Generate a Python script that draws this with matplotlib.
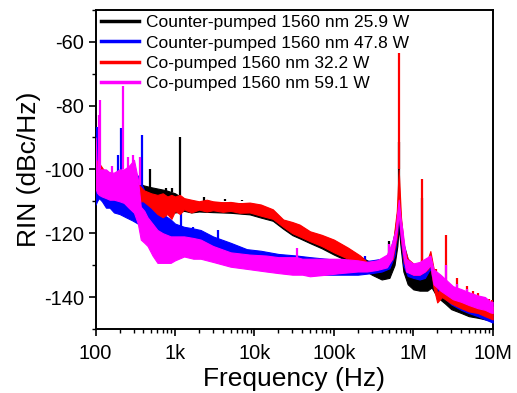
import numpy as np
import matplotlib
matplotlib.use('Agg')
import matplotlib.pyplot as plt
from matplotlib.ticker import FixedLocator, LogLocator, NullFormatter

plt.rcParams['font.family'] = ['Liberation Sans', 'DejaVu Sans']
plt.rcParams['axes.unicode_minus'] = False

labels = ['Counter-pumped 1560 nm 25.9 W',
          'Counter-pumped 1560 nm 47.8 W',
          'Co-pumped 1560 nm 32.2 W',
          'Co-pumped 1560 nm 59.1 W']
colors = ['black', '#0000ff', '#ff0000', '#ff00ff']

# ---- Counter-pumped 25.9 W (noise band + narrow peaks)
f_black = [100, 130, 180, 250, 330, 400, 480, 600, 760, 1000, 1300, 1600, 2000, 3000, 5000,
           8700, 12e3, 17e3, 23e3, 30e3, 37e3, 50e3, 70e3, 100e3, 150e3, 214e3, 300e3,
           400e3, 500e3, 580e3, 630e3, 655e3, 690e3, 750e3, 850e3, 1e6, 1.2e6, 1.5e6,
           1.7e6, 2e6, 2.5e6, 3e6, 4e6, 5e6, 6.5e6, 8e6, 10e6]
lo_black = [-107, -108, -108, -109, -110, -111, -112, -113, -113.5, -113.5, -113, -113.5,
            -113.2, -113.4, -113.6, -114.1, -115.1, -116.1, -118.6, -120.6, -121.6, -123.1,
            -124.7, -126.7, -128.7, -130.6, -133, -134.5, -134, -130, -124, -118, -124,
            -132, -136, -137.6, -138, -138, -137, -140, -142, -143.8, -145, -146, -146.5,
            -147, -147.5]
hi_black = [-101, -102, -102, -103, -104, -105, -105.5, -106, -106.5, -107.5, -109.3, -109.8,
            -110.3, -110.3, -110.5, -110.7, -111.3, -112.8, -116, -116.8, -117.6, -119.7,
            -120.8, -122.3, -124.8, -127.3, -129.3, -130, -129, -124, -116, -106, -116, -124,
            -129, -132, -133, -131, -130, -134, -136, -138, -140, -141, -142, -143, -144]
spk_f_black = [480, 760, 910, 1150, 2300, 4200, 7000, 490e3, 655e3, 1.3e6]
spk_lo_black = [-106, -107, -107, -108, -110, -110, -110, -130, -110, -133]
spk_hi_black = [-100, -105.8, -105.8, -90, -108.8, -109.2, -109.5, -122.5, -91.5, -109]

# ---- Counter-pumped 47.8 W
f_blue = [100, 104, 110, 120, 135, 150, 170, 200, 240, 290, 340, 400, 450, 520, 600, 700,
          880, 1000, 1300, 1700, 2100, 3000, 5000, 8000, 12e3, 20e3, 34e3, 50e3, 80e3,
          120e3, 200e3, 300e3, 400e3, 500e3, 580e3, 630e3, 655e3, 690e3, 750e3, 850e3,
          1e6, 1.2e6, 1.4e6, 1.64e6, 1.8e6, 2.2e6, 3e6, 4e6, 5e6, 6.5e6, 8e6, 10e6]
lo_blue = [-111, -110, -109, -110, -112, -112, -113.5, -114, -115, -116, -117, -119, -120,
           -121, -121, -122, -124, -124, -124, -125, -125, -126, -128, -129, -130, -131,
           -132, -133, -133, -133, -133, -132.5, -132, -131, -127, -120, -115, -121, -130,
           -133.4, -134, -134.5, -134, -131, -136, -139, -142.3, -144, -145, -146, -147, -148]
hi_blue = [-99, -102, -101, -101, -102, -101, -102, -101, -100, -100, -102, -106, -110,
           -111, -112.6, -114, -115.7, -117, -118, -118.5, -119, -121, -123, -125, -125.5,
           -126.5, -127, -127.5, -128, -128.5, -129, -128.5, -128, -126.5, -120, -113, -110,
           -115, -123, -128, -130, -131, -130, -127, -132, -135, -138, -139.5, -140.5, -142,
           -143, -144.5]
spk_f_blue = [104, 189, 208, 385, 1200, 1700, 3500, 250e3]
spk_lo_blue = [-104, -105, -104, -110, -120, -122, -124, -129]
spk_hi_blue = [-86.6, -95.4, -87, -89.2, -113.6, -118, -119, -127]

# ---- Co-pumped 32.2 W
f_red = [100, 110, 125, 150, 180, 220, 270, 330, 400, 500, 600, 700, 800, 900, 1000, 1150,
         1300, 1600, 2000, 2500, 3000, 4000, 5000, 6500, 8700, 12e3, 17e3, 23e3, 30e3, 37e3,
         50e3, 70e3, 100e3, 150e3, 214e3, 260e3, 350e3, 450e3, 550e3, 620e3, 655e3, 700e3,
         760e3, 850e3, 1e6, 1.2e6, 1.5e6, 1.64e6, 1.8e6, 2.0e6, 2.3e6, 3e6, 4e6, 5e6, 6.5e6,
         8e6, 10e6]
lo_red = [-106, -106, -107, -108, -109, -109, -110, -110, -110, -112, -114, -115, -114,
          -115.5, -113, -114, -112.5, -113.5, -112.6, -113.2, -112.8, -113.3, -113, -113.6,
          -113.5, -114.5, -115.5, -118, -120, -121, -122.5, -124, -126, -128, -129.8, -130.5,
          -131, -130.5, -128, -121, -112, -122, -129, -132, -133, -133, -131.5, -130, -137,
          -141.7, -140, -142, -143.5, -144.5, -145, -146, -147]
hi_red = [-97, -98, -100, -101, -102, -102, -103, -104, -106.5, -107.5, -108, -107.5, -108.5,
          -108, -108.5, -108, -109, -109.5, -110, -109.5, -110, -110.3, -110.2, -110.6,
          -110.4, -111, -112.5, -115.7, -116.5, -117.3, -119.4, -120.5, -122, -124.5, -127,
          -129, -129, -128.5, -124, -113, -100, -115, -124, -128, -129.5, -130, -128.5,
          -125.6, -131, -139, -136, -137, -139, -140, -141, -142, -143]
spk_f_red = [655e3, 1.29e6, 1.95e6, 2.6e6, 3.6e6, 4.7e6, 5.6e6, 6.6e6, 7.7e6, 8.9e6, 9.8e6]
spk_lo_red = [-100, -130, -138, -137, -139, -140, -141, -142, -143, -143, -144]
spk_hi_red = [-63.5, -103, -131.3, -120.5, -134, -136.6, -138, -138.6, -140, -140.7, -141]

# ---- Co-pumped 59.1 W
f_mag = [100, 104, 110, 120, 135, 150, 170, 200, 227, 260, 304, 340, 370, 410, 450, 520,
         600, 700, 880, 1000, 1300, 1700, 2100, 3000, 5000, 8700, 14e3, 20e3, 30e3, 34e3,
         40e3, 50e3, 80e3, 120e3, 200e3, 260e3, 350e3, 465e3, 540e3, 600e3, 620e3, 655e3,
         690e3, 730e3, 810e3, 1e6, 1.2e6, 1.4e6, 1.64e6, 1.8e6, 2.2e6, 3.16e6, 4e6, 5e6,
         6.5e6, 8e6, 9.3e6, 10e6]
lo_mag = [-106, -107.3, -108, -108.5, -109, -109.5, -109.5, -110, -110.5, -112, -113.6,
          -117, -122, -123, -124, -127, -129.3, -129.3, -129.3, -128.5, -127.3, -128, -128,
          -129, -130.5, -131.3, -132, -132.5, -133, -133, -133, -133.5, -133, -132.5, -132,
          -132, -131.5, -130.7, -128, -122, -119, -114, -120, -125, -132, -133, -133, -132,
          -130, -136, -138, -140.7, -141.5, -142.5, -143.5, -144, -144.8, -145]
hi_mag = [-90, -101.7, -100, -100, -100, -101, -101, -100, -100, -99, -97, -103, -111.7,
          -113, -115, -117, -119, -120, -121, -121, -121, -121.5, -122, -124, -126, -126.7,
          -127, -127.5, -127.5, -127.5, -128, -128, -128, -128, -128.5, -129, -128.5,
          -126.7, -123, -118.8, -114.7, -109.5, -115, -119, -128, -129.5, -129, -128, -127,
          -131.3, -133, -136.6, -137.5, -138.5, -139.5, -140, -141.4, -141.5]
spk_f_mag = [109, 113, 159, 223, 258, 298, 362, 34e3, 490e3, 2.6e6, 3.6e6, 4.7e6]
spk_lo_mag = [-101, -100, -101, -100, -100, -100, -105, -128, -127, -135, -138, -139]
spk_hi_mag = [-83, -78.2, -99, -74, -96, -95.4, -96, -124.5, -123.5, -130, -136, -137.5]

series = [
    (f_black, lo_black, hi_black, spk_f_black, spk_lo_black, spk_hi_black),
    (f_blue, lo_blue, hi_blue, spk_f_blue, spk_lo_blue, spk_hi_blue),
    (f_red, lo_red, hi_red, spk_f_red, spk_lo_red, spk_hi_red),
    (f_mag, lo_mag, hi_mag, spk_f_mag, spk_lo_mag, spk_hi_mag),
]

xticks = [1e2, 1e3, 1e4, 1e5, 1e6, 1e7]
xticklabels = ['100', '1k', '10k', '100k', '1M', '10M']
yticks = [-60, -80, -100, -120, -140]

fig = plt.figure(figsize=(5.17, 3.93), dpi=100)
ax = fig.add_axes([0.185, 0.163, 0.768, 0.812])

for i, (f, lo, hi, sf, slo, shi) in enumerate(series):
    c = colors[i]
    ax.fill_between(f, lo, hi, color=c, lw=0.8, edgecolor=c, zorder=2 + i)
    ax.vlines(sf, slo, shi, color=c, lw=1.6, zorder=2 + i)
    ax.plot([], [], color=c, lw=2.5, label=labels[i])

ax.set_xscale('log')
ax.set_xlim(100, 1e7)
ax.set_ylim(-150, -50)
ax.xaxis.set_major_locator(FixedLocator(xticks))
ax.set_xticklabels(xticklabels)
ax.xaxis.set_minor_locator(LogLocator(base=10, subs=np.arange(2, 10), numticks=20))
ax.xaxis.set_minor_formatter(NullFormatter())
ax.set_yticks(yticks)
ax.set_yticks(np.arange(-150, -49, 10), minor=True)

ax.tick_params(axis='both', which='major', direction='out', length=5, width=1.2,
               labelsize=14.4)
ax.tick_params(axis='x', which='major', pad=6)
ax.tick_params(axis='both', which='minor', direction='out', length=3, width=1)
for s in ax.spines.values():
    s.set_linewidth(1.4)

ax.set_xlabel('Frequency (Hz)', fontsize=19, labelpad=3)
ax.set_ylabel('RIN (dBc/Hz)', fontsize=19, labelpad=2)

ax.legend(loc='upper left', bbox_to_anchor=(0, 1), frameon=False, fontsize=12.5,
          handlelength=2.2, handletextpad=0.4, labelspacing=0.3, borderaxespad=0.1,
          borderpad=0.2)

fig.savefig('out.png', dpi=100)
